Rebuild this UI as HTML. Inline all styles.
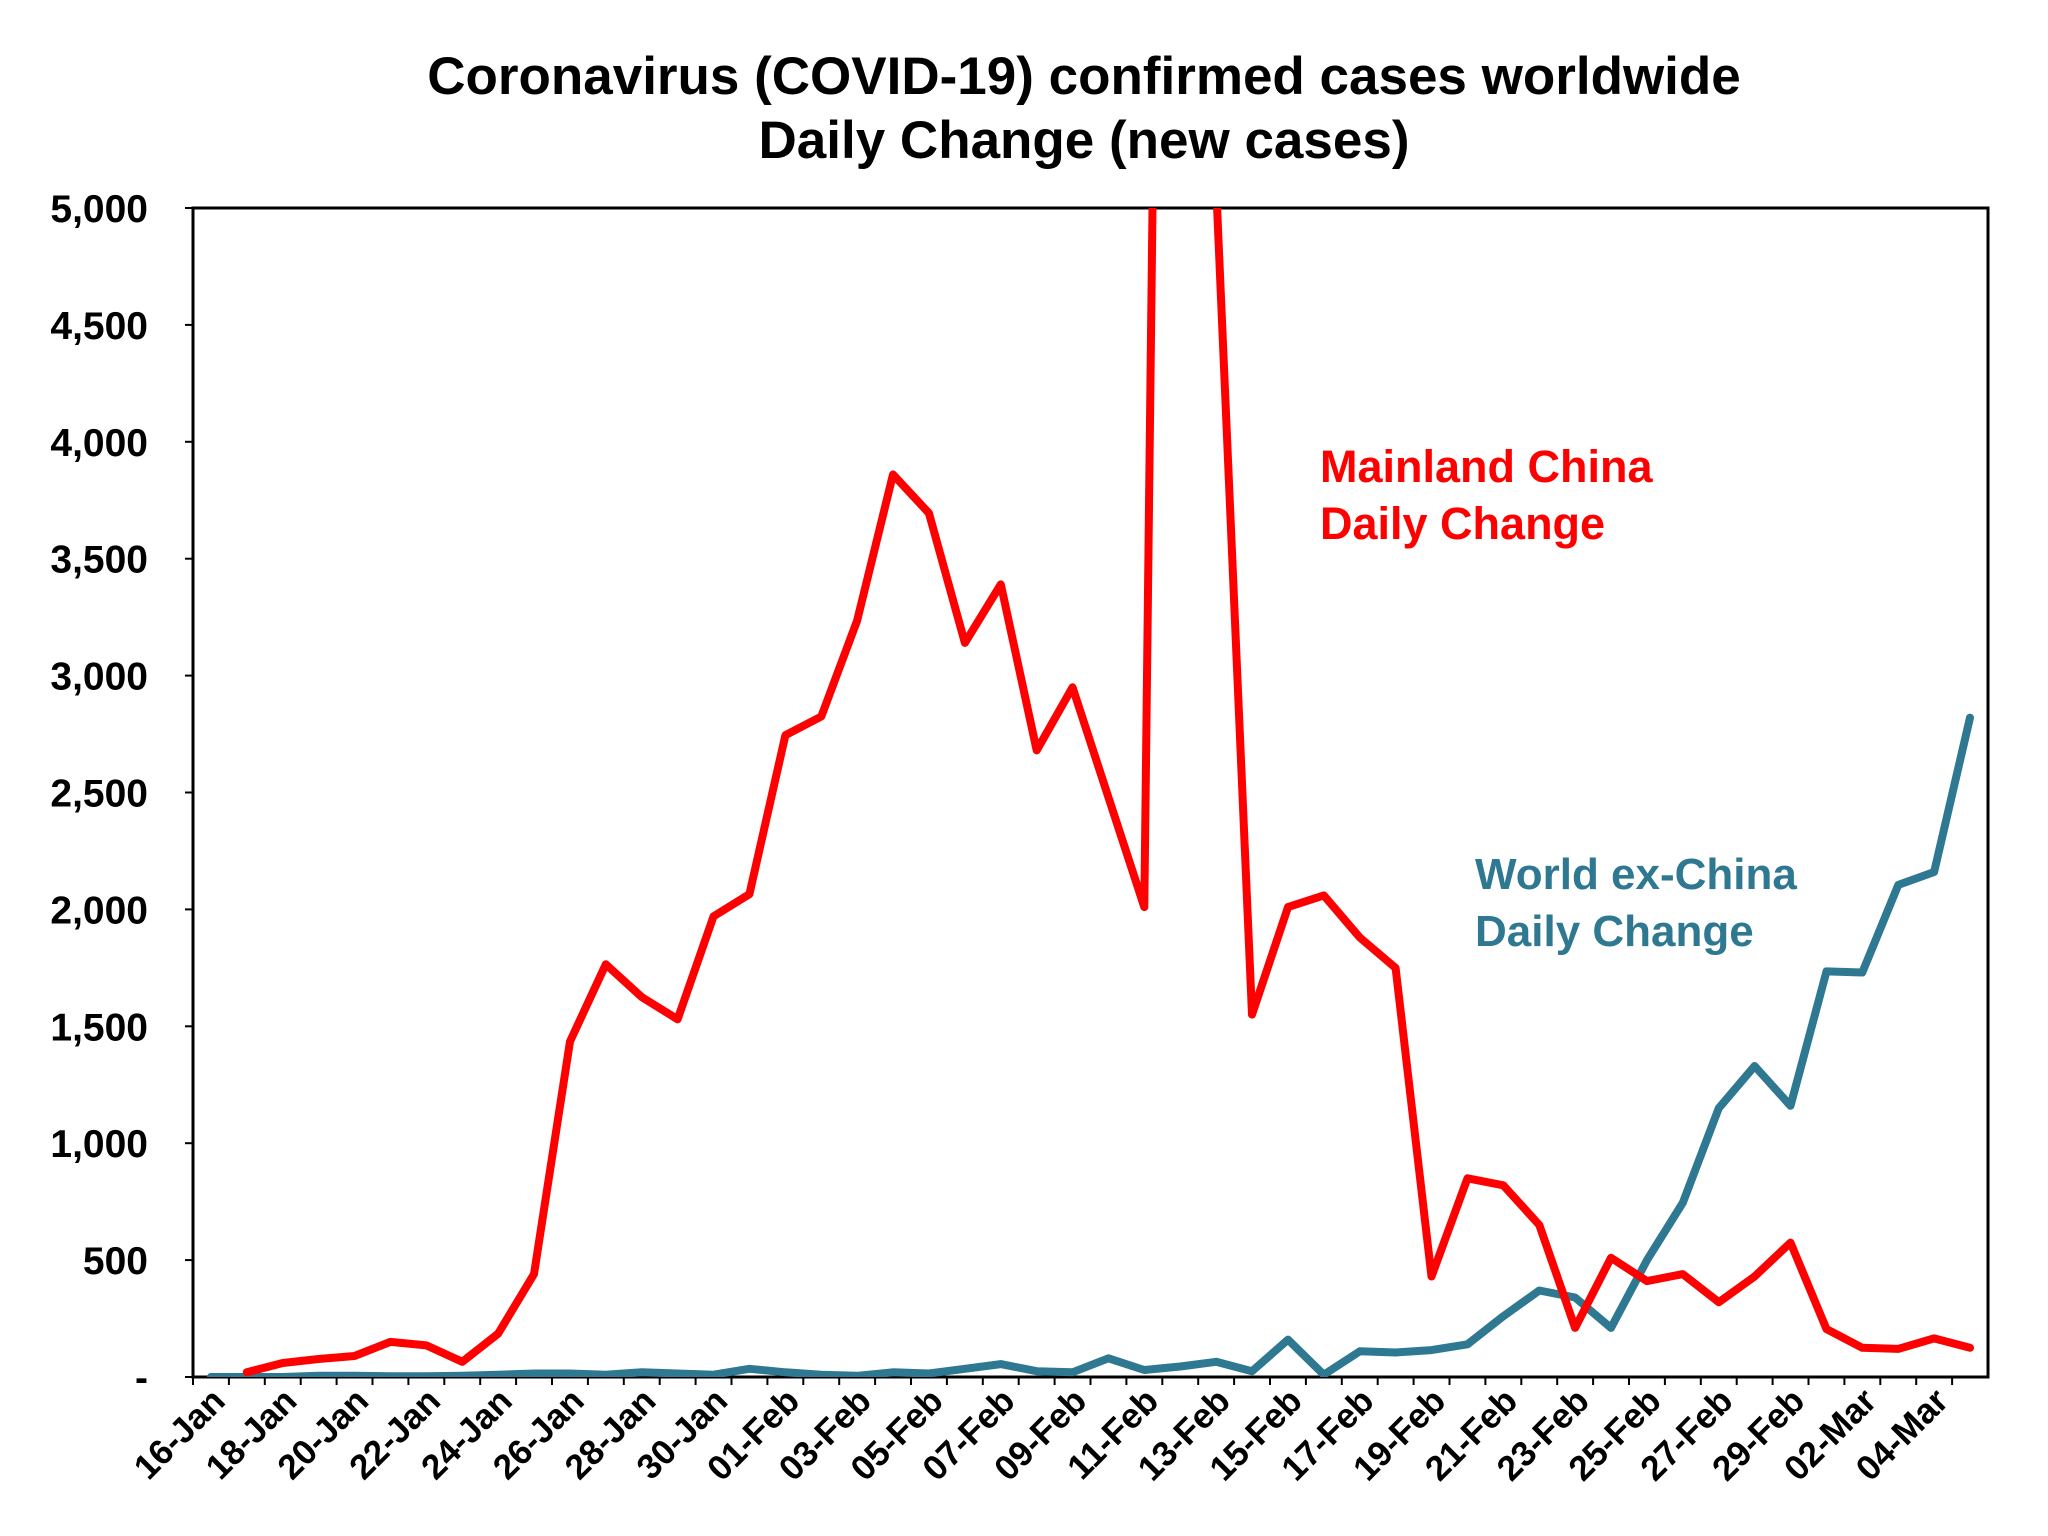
<!DOCTYPE html>
<html><head><meta charset="utf-8"><style>
html,body{margin:0;padding:0;background:#fff;}
svg{display:block;font-family:"Liberation Sans",Arial,sans-serif;}
</style></head><body>
<svg id="chart" width="2048" height="1536" viewBox="0 0 2048 1536" xmlns="http://www.w3.org/2000/svg">
<rect x="0" y="0" width="2048" height="1536" fill="#fff"/>
<text x="1084" y="94" text-anchor="middle" font-size="53" font-weight="bold">Coronavirus (COVID-19) confirmed cases worldwide</text>
<text x="1084" y="158" text-anchor="middle" font-size="53" font-weight="bold">Daily Change (new cases)</text>
<defs><clipPath id="plotclip"><rect x="193" y="208" width="1795" height="1169"/></clipPath></defs>
<g id="axes"></g>
<g id="series" clip-path="url(#plotclip)"></g>
<text x="1320" y="482" font-size="45" font-weight="bold" fill="#ff0000"><tspan x="1320">Mainland China</tspan><tspan x="1320" dy="57">Daily Change</tspan></text>
<text x="1475" y="889" font-size="44" font-weight="bold" fill="#2e7891"><tspan x="1475">World ex-China</tspan><tspan x="1475" dy="57">Daily Change</tspan></text>
</svg>
<script>
const categories = ["16-Jan","17-Jan","18-Jan","19-Jan","20-Jan","21-Jan","22-Jan","23-Jan","24-Jan","25-Jan","26-Jan","27-Jan","28-Jan","29-Jan","30-Jan","31-Jan","01-Feb","02-Feb","03-Feb","04-Feb","05-Feb","06-Feb","07-Feb","08-Feb","09-Feb","10-Feb","11-Feb","12-Feb","13-Feb","14-Feb","15-Feb","16-Feb","17-Feb","18-Feb","19-Feb","20-Feb","21-Feb","22-Feb","23-Feb","24-Feb","25-Feb","26-Feb","27-Feb","28-Feb","29-Feb","01-Mar","02-Mar","03-Mar","04-Mar","05-Mar"];
const chinaValues = [null,20,60,77,90,150,135,65,185,440,1435,1765,1625,1530,1970,2065,2745,2825,3235,3860,3695,3140,3390,2680,2950,2480,2010,15141,5090,1550,2010,2060,1880,1750,430,850,820,650,210,510,410,440,320,430,575,205,125,120,165,125];
const worldValues = [0,0,0,5,5,3,3,5,10,15,15,10,20,15,10,35,20,10,5,20,15,35,55,25,20,80,30,45,65,25,160,10,110,105,115,140,260,370,340,210,500,745,1150,1330,1160,1735,1730,2105,2160,2820];
const yTicks = [0,500,1000,1500,2000,2500,3000,3500,4000,4500,5000];
const yTickLabels = ["-","500","1,000","1,500","2,000","2,500","3,000","3,500","4,000","4,500","5,000"];

const NS="http://www.w3.org/2000/svg";
const L=193,R=1988,T=208,B=1377,YMAX=5000;
const step=(R-L)/categories.length;
function xPos(i){return L+step*(i+0.5);}
function yPos(v){return B-(v/YMAX)*(B-T);}
function mk(tag,attrs,parent){const e=document.createElementNS(NS,tag);for(const k in attrs)e.setAttribute(k,attrs[k]);parent.appendChild(e);return e;}
const axes=document.getElementById('axes'),series=document.getElementById('series');

const frame=mk('rect',{x:L,y:T,width:R-L,height:B-T,fill:'none',stroke:'#000','stroke-width':3},axes);



yTicks.forEach((v,k)=>{
  const y=yPos(v);
  const tk=mk('line',{x1:L-8,x2:L,y1:y,y2:y,stroke:'#000','stroke-width':2},axes);
  
  
  const t=mk('text',{x:148,y:y+14,'text-anchor':'end','font-size':39,'font-weight':'bold'},axes);
  t.textContent=yTickLabels[k];
  
  
});

categories.forEach((c,i)=>{
  const xb=L+step*i;
  const tk=mk('line',{x1:xb,x2:xb,y1:B,y2:B+8,stroke:'#000','stroke-width':2},axes);
  
  
  if(i%2===0){
    const x=xPos(i)+16,y=B+26;
    const t=mk('text',{x:x,y:y,'text-anchor':'end','font-size':35,'font-weight':'bold',transform:`rotate(-45 ${x} ${y})`},axes);
    t.textContent=c;
    
    
  }
});

function drawLine(vals,color,name){
  let d='';let started=false;
  vals.forEach((v,i)=>{
    if(v===null){started=false;return;}
    d+=(started?'L':'M')+xPos(i).toFixed(1)+' '+yPos(v).toFixed(1)+' ';
    started=true;
  });
  const p=mk('path',{d:d,fill:'none',stroke:color,'stroke-width':8,'stroke-linejoin':'round','stroke-linecap':'round'},series);
  
  
}
drawLine(worldValues,'#2e7891','world-ex-china-line');
drawLine(chinaValues,'#ff0000','mainland-china-line');
</script>
</body></html>
